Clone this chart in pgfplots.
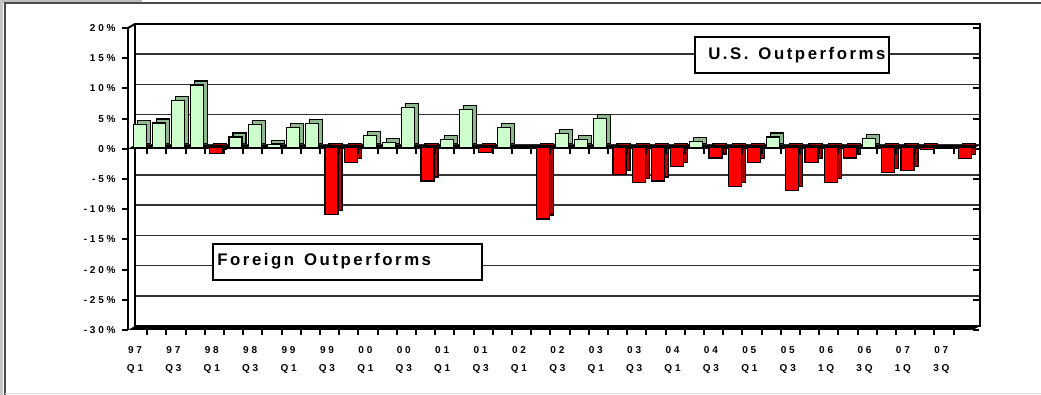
\documentclass[border=0pt]{standalone}
\usepackage{fontspec}
\setmainfont{Liberation Sans}
\newfontfamily\tickfont[LetterSpace=28]{Liberation Sans}
\newfontfamily\boxfont[LetterSpace=15]{Liberation Sans}
\usepackage{pgfplots}
\usepackage{pgfplotstable}
\pgfplotsset{compat=1.18}
\definecolor{posface}{HTML}{CCFFCC}
\definecolor{posside}{HTML}{8FB88F}
\definecolor{negface}{HTML}{FF0000}
\definecolor{negside}{HTML}{B00000}

\pgfplotstableread{
x y
0 3.8
1 4.1
2 7.8
3 10.4
5 1.8
6 3.8
7 0.5
8 3.3
9 4.0
12 2.1
13 0.9
14 6.7
16 1.4
17 6.4
19 3.4
22 2.4
23 1.4
24 4.9
29 1.0
33 1.8
38 1.5
}\posdata

\pgfplotstableread{
x y
4 -1.0
10 -11.0
11 -2.4
15 -5.5
18 -0.8
21 -11.8
25 -4.4
26 -5.8
27 -5.5
28 -3.1
30 -1.7
31 -6.4
32 -2.4
34 -7.1
35 -2.4
36 -5.8
37 -1.7
39 -4.1
40 -3.8
41 -0.3
43 -1.8
}\negdata

\begin{document}
\begin{tikzpicture}
\path[use as bounding box] (0pt,0pt) rectangle (520.5pt,197.5pt);
\begin{scope}[x=0.5pt,y=0.5pt]
\fill[gray!50] (0,392) rectangle (142,395);
\fill[gray!45] (0,0) rectangle (3.3,395);
\draw[black!70, line width=1pt] (4.6,0) -- (4.6,391.5) -- (1041,391.5);
\draw[gray!25, line width=0.6pt] (4.6,1.5) -- (1041,1.5);
\end{scope}
\begin{axis}[
  at={(67.5pt,34.5pt)}, anchor=south west,
  scale only axis, width=422.5pt, height=151pt,
  xmin=-0.344, xmax=43.67, ymin=-30, ymax=20,
  clip=false,
  axis line style={line width=1pt},
  ytick={-30,-25,...,20},
  yticklabels={-30\%,-25\%,-20\%,-15\%,-10\%,-5\%,0\%,5\%,10\%,15\%,20\%},
  ymajorgrids,
  major grid style={line width=0.8pt, black!80},
  xtick={0,2,...,42},
  xticklabels={{97\\Q1},{97\\Q3},{98\\Q1},{98\\Q3},{99\\Q1},{99\\Q3},{00\\Q1},{00\\Q3},{01\\Q1},{01\\Q3},{02\\Q1},{02\\Q3},{03\\Q1},{03\\Q3},{04\\Q1},{04\\Q3},{05\\Q1},{05\\Q3},{06\\1Q},{06\\3Q},{07\\1Q},{07\\3Q}},
  xtick style={draw=none},
  tick align=outside, major tick length=3pt,
  ytick style={line width=1pt, black, xshift=-3.5pt, yshift=-2pt},
  yticklabel style={font=\tickfont\bfseries\fontsize{5}{6}\selectfont, xshift=-3.2pt, yshift=-2pt},
  xticklabel style={font=\tickfont\bfseries\fontsize{5}{9}\selectfont, align=center, xshift=-3.3pt, yshift=-3.5pt},
  ybar, bar width=6.5pt,
]
% front wall and floor
\fill[black] (rel axis cs:0,0) -- (rel axis cs:1,0) -- ([shift={(-3.5pt,-2pt)}]rel axis cs:1,0) -- ([shift={(-3.5pt,-2pt)}]rel axis cs:0,0) -- cycle;
\draw[line width=1pt] ([shift={(-3.5pt,-2pt)}]rel axis cs:0,1) -- ([shift={(-3.5pt,-2pt)}]rel axis cs:0,0);
\draw[line width=1pt] ([shift={(-3.5pt,-2pt)}]rel axis cs:0,1) -- (rel axis cs:0,1);
\pgfplotsinvokeforeach{0,...,42}{
  \draw[line width=1pt] ([shift={(-2pt,-2pt)}]axis cs:#1.5,-30) -- ([shift={(-2pt,-4.5pt)}]axis cs:#1.5,-30);
}
% shadows (3D depth)
\addplot[fill=posside, draw=black, line width=0.6pt, bar shift=1pt, yshift=0.5pt] table {\posdata};
\addplot[fill=negside, draw=black, line width=0.6pt, bar shift=1pt, yshift=0.5pt] table {\negdata};
% zero band
\fill[black] (axis cs:-0.344,0) -- (axis cs:43.67,0) -- ([shift={(-3.5pt,-2pt)}]axis cs:43.67,0) -- ([shift={(-3.5pt,-2pt)}]axis cs:-0.344,0) -- cycle;
\pgfplotsinvokeforeach{0,...,42}{
  \draw[line width=1pt] ([shift={(-2pt,-2pt)}]axis cs:#1.5,0) -- ([shift={(-2pt,-4.5pt)}]axis cs:#1.5,0);
}
% front faces
\addplot[fill=posface, draw=black, line width=0.6pt, bar shift=-1pt, yshift=-1.5pt] table {\posdata};
\addplot[fill=negface, draw=black, line width=0.6pt, bar shift=-1pt, yshift=-1.5pt] table {\negdata};
% annotation boxes
\node[draw, line width=1pt, fill=white, font=\boxfont\bfseries\fontsize{8.4}{10}\selectfont,
  text width=93pt, inner xsep=2pt, minimum height=18pt, align=right]
  at (axis cs:33.9,14.9) {U.S.\hspace{2.2pt} Outperforms};
\node[draw, line width=1pt, fill=white, font=\boxfont\bfseries\fontsize{8.4}{10}\selectfont,
  text width=130pt, inner xsep=2.25pt, minimum height=18pt, align=left]
  at (axis cs:10.72,-19.33) {Foreign\hspace{2.2pt} Outperforms};
\end{axis}
\end{tikzpicture}
\end{document}
